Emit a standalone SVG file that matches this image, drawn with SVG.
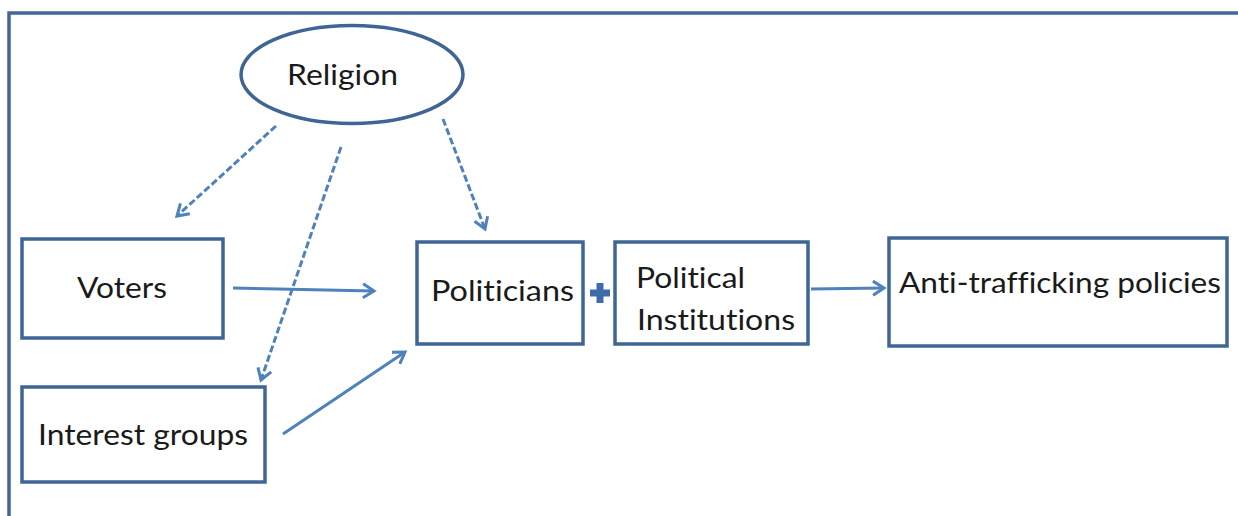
<svg xmlns="http://www.w3.org/2000/svg" width="1238" height="516" viewBox="0 0 1238 516">
<style>
  .box { fill: #ffffff; stroke: #3F6595; stroke-width: 3.5; }
  .lbl { font-family: Lato, "Liberation Sans", Arial, sans-serif; font-size: 28px; fill: #1a1a1a; font-variant-ligatures: none; }
  .conn { fill: none; stroke: #4F81BD; stroke-width: 3; }
  .dash { stroke-dasharray: 7 3; }
</style>
<defs>
  <marker id="arrow" markerUnits="userSpaceOnUse" viewBox="-13 -9 16 18" refX="0" refY="0" markerWidth="16" markerHeight="18" orient="auto">
    <path d="M-11,-7 L0,0 L-11,7" fill="none" stroke="#4F81BD" stroke-width="3" stroke-linejoin="miter"/>
  </marker>
</defs>
<rect width="1238" height="516" fill="#ffffff"/>
<g id="frame">
  <path d="M1240,13 L9,13 L9,518" fill="none" stroke="#41679A" stroke-width="3.5"/>
</g>
<g id="connectors">
  <line class="conn dash" x1="276" y1="126" x2="177" y2="216" marker-end="url(#arrow)"/>
  <line class="conn dash" x1="341" y1="147" x2="261" y2="380" marker-end="url(#arrow)"/>
  <line class="conn dash" x1="443" y1="119" x2="485" y2="229" marker-end="url(#arrow)"/>
  <line class="conn" x1="233" y1="288" x2="374" y2="291" marker-end="url(#arrow)"/>
  <line class="conn" x1="283" y1="434" x2="405" y2="352" marker-end="url(#arrow)"/>
  <line class="conn" x1="811" y1="289" x2="884" y2="288" marker-end="url(#arrow)"/>
</g>
<g id="religion">
  <ellipse class="box" cx="352" cy="74.5" rx="111" ry="49"/>
  <text class="lbl" x="287" y="85" textLength="111" lengthAdjust="spacingAndGlyphs">Religion</text>
</g>
<g id="voters">
  <rect class="box" x="22" y="239" width="201" height="99"/>
  <text class="lbl" x="77" y="298" textLength="90" lengthAdjust="spacingAndGlyphs">Voters</text>
</g>
<g id="interest-groups">
  <rect class="box" x="22" y="387" width="243" height="95"/>
  <text class="lbl" x="38" y="445" textLength="210" lengthAdjust="spacingAndGlyphs">Interest groups</text>
</g>
<g id="politicians">
  <rect class="box" x="417" y="242" width="166" height="102"/>
  <text class="lbl" x="431" y="301" textLength="143" lengthAdjust="spacingAndGlyphs">Politicians</text>
</g>
<g id="plus">
  <path d="M596.5,283 H603.5 V289.5 H610 V296.5 H603.5 V303 H596.5 V296.5 H590 V289.5 H596.5 Z" fill="#3F6CA8"/>
</g>
<g id="political-institutions">
  <rect class="box" x="615" y="242" width="193" height="102"/>
  <text class="lbl" x="636" y="288" textLength="109" lengthAdjust="spacingAndGlyphs">Political</text>
  <text class="lbl" x="637" y="330" textLength="158" lengthAdjust="spacingAndGlyphs">Institutions</text>
</g>
<g id="anti-trafficking-policies">
  <rect class="box" x="889" y="238" width="338" height="108"/>
  <text class="lbl" x="899" y="293" textLength="322" lengthAdjust="spacingAndGlyphs">Anti-trafficking policies</text>
</g>
</svg>
